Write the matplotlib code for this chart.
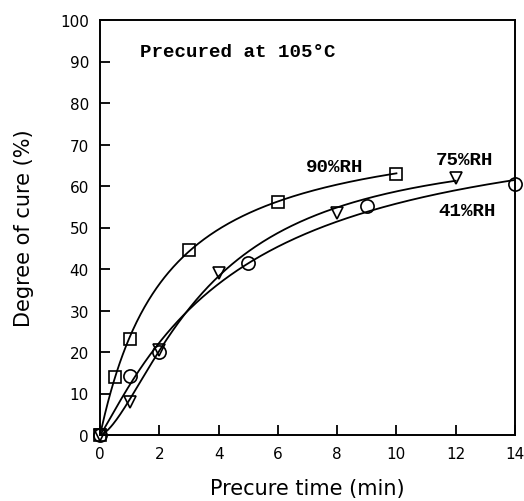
import matplotlib
matplotlib.use("Agg")
import matplotlib.pyplot as plt
import numpy as np

# Data (precure time in min, degree of cure in %)
t_90 = np.array([0, 0.5, 1, 3, 6, 10])
c_90 = np.array([0, 14, 23.2, 44.5, 56.2, 63])

t_75 = np.array([0, 1, 2, 4, 8, 12])
c_75 = np.array([0, 8, 20.5, 39, 53.5, 62])

t_41 = np.array([0, 1, 2, 5, 9, 14])
c_41 = np.array([0, 14.2, 20, 41.5, 55.2, 60.5])

xticks = [0, 2, 4, 6, 8, 10, 12, 14]
yticks = [0, 10, 20, 30, 40, 50, 60, 70, 80, 90, 100]


def fit_curve(t, c):
    # least squares fit of c = a*t^n/(b^n+t^n), n and b by grid search
    best = None
    for n in np.linspace(0.7, 2.0, 53):
        for b in np.linspace(0.5, 25, 491):
            f = t ** n / (b ** n + t ** n)
            a = (f @ c) / (f @ f)
            sse = np.sum((a * f - c) ** 2)
            if best is None or sse < best[0]:
                best = (sse, a, b, n)
    _, a, b, n = best
    tt = np.linspace(0, t.max(), 300)
    return tt, a * tt ** n / (b ** n + tt ** n)


fig = plt.figure(figsize=(5.24, 5.02), dpi=100)
ax = fig.add_axes([100 / 524, 1 - 436 / 502, 415 / 524, 415 / 502])

mono = dict(family="Liberation Mono", fontweight="bold", fontsize=13.8)

for t, c, m, ms in [(t_90, c_90, "s", 8), (t_75, c_75, "v", 8.5), (t_41, c_41, "o", 9.5)]:
    tt, cc = fit_curve(t, c)
    ax.plot(tt, cc, "-k", linewidth=1.3)
    ax.plot(t, c, m, markersize=ms, markerfacecolor="none",
            markeredgecolor="k", markeredgewidth=1.2, linestyle="none",
            clip_on=False)

ax.text(7.9, 64.8, "90%RH", ha="center", va="center", **mono)
ax.text(12.3, 66.5, "75%RH", ha="center", va="center", **mono)
ax.text(12.4, 54, "41%RH", ha="center", va="center", **mono)
ax.text(1.35, 92.4, "Precured at 105\u00b0C", ha="left", va="center", **mono)

ax.set_xlim(0, 14)
ax.set_ylim(0, 100)
ax.set_xticks(xticks)
ax.set_yticks(yticks)
ax.tick_params(direction="in", length=7, width=1.3, labelsize=11, pad=8,
               top=False, right=False)
for s in ax.spines.values():
    s.set_linewidth(1.4)

ax.set_xlabel("Precure time (min)", fontsize=15, labelpad=12)
ax.set_ylabel("Degree of cure (%)", fontsize=15, labelpad=19)

plt.savefig("out.png", dpi=100)
